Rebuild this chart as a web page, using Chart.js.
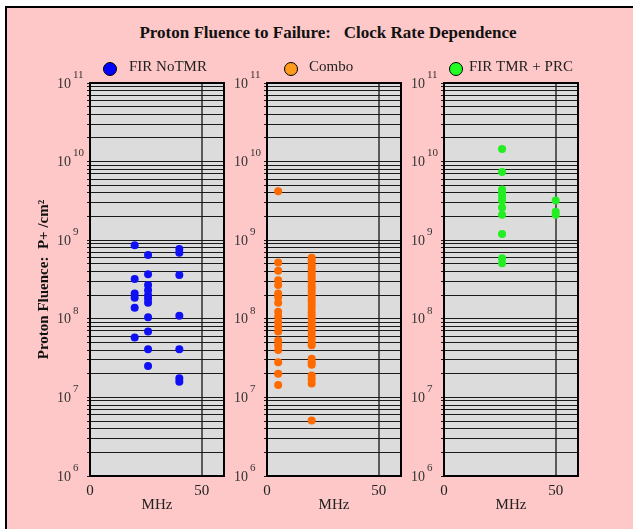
<!DOCTYPE html>
<html>
<head>
<meta charset="utf-8">
<script src="https://cdn.jsdelivr.net/npm/chart.js@4.4.0/dist/chart.umd.min.js"></script>
<style>
body { margin: 0; background: #fff; }
#wrap { position: relative; width: 633px; height: 529px; overflow: hidden; }
#frame { position: absolute; left: 5px; top: 6px; right: 0; bottom: 0; background: #ffc8c8;
         border-top: 2px solid #000; border-left: 2px solid #000; }
#title { position: absolute; left: 0; width: 656px; top: 23px; line-height: 20px; text-align: center;
         font: bold 17px "Liberation Serif", serif; white-space: pre; color: #111; }
canvas { position: absolute; left: 0; top: 0; }
</style>
</head>
<body>
<div id="wrap">
  <div id="frame"></div>
  <div id="title">Proton Fluence to Failure:   Clock Rate Dependence</div>
  <canvas id="c0"></canvas>
  <canvas id="c1"></canvas>
  <canvas id="c2"></canvas>
</div>
<script>
// --- data ---
const seriesNames = ['FIR NoTMR', 'Combo', 'FIR TMR + PRC'];

const noTmrMHz = [20, 26, 40];
const noTmrFluence = [
    [8.6e8, 3.2e8, 2.1e8, 1.85e8, 1.38e8, 5.8e7],
    [6.5e8, 3.7e8, 2.7e8, 2.3e8, 2.0e8, 1.8e8, 1.6e8, 1.05e8, 6.9e7, 4.1e7, 2.5e7],
    [7.7e8, 6.9e8, 3.6e8, 1.09e8, 4.1e7, 1.75e7, 1.58e7]
];

const comboMHz = [5, 20];
const comboFluence = [
    [4.2e9, 5.2e8, 4.1e8, 3.1e8, 2.7e8, 2.1e8, 1.9e8, 1.6e8, 1.23e8, 1.07e8, 9.1e7, 7.9e7,
     6.9e7, 5.3e7, 4.6e7, 4.0e7, 2.8e7, 2.0e7, 1.44e7],
    [6.0e8, 5.5e8, 5.0e8, 4.6e8, 4.2e8, 3.8e8, 3.5e8, 3.2e8, 2.9e8, 2.6e8, 2.4e8, 2.2e8, 2.0e8,
     1.8e8, 1.65e8, 1.5e8, 1.35e8, 1.2e8, 1.1e8, 1.0e8, 9.0e7, 8.2e7, 7.5e7, 6.8e7, 6.2e7,
     5.6e7, 5.0e7, 4.6e7, 3.1e7, 2.8e7, 2.6e7, 1.9e7, 1.7e7, 1.5e7, 5.1e6]
];

const tmrMHz = [26, 50];
const tmrFluence = [
    [1.45e10, 7.4e9, 4.4e9, 4.0e9, 3.6e9, 3.2e9, 2.6e9, 2.1e9, 1.2e9, 5.9e8, 5.1e8],
    [3.2e9, 2.3e9, 2.1e9]
];

const xTicks = [0, 50];
const yTickExps = [6, 7, 8, 9, 10, 11];

// --- look ---
const panelLeft = [90, 267, 444];
const panelWidth = 134;
const pointColors = ['#1010f5', '#ff6a00', '#22ee22'];
const legendColors = ['#0000ff', '#ff9a1a', '#22ff22'];
const legendMarkerX = [20, 24, 12];
const legendTextX = [39, 42, 25];
const serif = '"Liberation Serif", "Times New Roman", serif';

// log grid: 1..9 x 10^n
const gridValues = [];
for (let e = yTickExps[0]; e < yTickExps[yTickExps.length - 1]; e++) {
    for (let m = 1; m <= 9; m++) gridValues.push(m * Math.pow(10, e));
}
gridValues.push(Math.pow(10, yTickExps[yTickExps.length - 1]));

const panelDecor = {
    id: 'panelDecor',
    beforeDraw(chart) {
        const a = chart.chartArea, ctx = chart.ctx;
        ctx.save();
        ctx.fillStyle = '#dcdcdc';
        ctx.fillRect(a.left, a.top, a.right - a.left, a.bottom - a.top);
        ctx.restore();
    },
    afterDraw(chart, args, opts) {
        const a = chart.chartArea, ctx = chart.ctx;
        ctx.save();
        ctx.strokeStyle = '#000';
        ctx.lineWidth = 2;
        ctx.strokeRect(a.left, a.top, a.right - a.left, a.bottom - a.top);

        // y tick labels as 10 with a raised exponent
        const ys = chart.scales.y;
        ctx.fillStyle = '#333';
        yTickExps.forEach(function(e) {
            const py = ys.getPixelForValue(Math.pow(10, e));
            ctx.font = '14px ' + serif;
            ctx.textAlign = 'right';
            ctx.textBaseline = 'middle';
            ctx.fillText('10', a.left - 19, py + 1);
            ctx.font = '11px ' + serif;
            ctx.textAlign = 'left';
            ctx.fillText(String(e), a.left - 17, py - 8);
        });

        // legend entry above the panel
        ctx.beginPath();
        ctx.arc(a.left + opts.markerX, 69, 6.5, 0, Math.PI * 2);
        ctx.fillStyle = opts.color;
        ctx.fill();
        ctx.lineWidth = 1;
        ctx.strokeStyle = '#000';
        ctx.stroke();
        ctx.fillStyle = '#222';
        ctx.font = '15px ' + serif;
        ctx.textAlign = 'left';
        ctx.textBaseline = 'middle';
        ctx.fillText(opts.label, a.left + opts.textX, 67);
        ctx.restore();
    }
};

function makePanel(i, clocks, fluence) {
    const canvas = document.getElementById('c' + i);
    canvas.width = panelLeft[i] + panelWidth + 20;
    canvas.height = 529;

    const pts = [];
    clocks.forEach(function(mhz, k) {
        fluence[k].forEach(function(v) { pts.push({ x: mhz, y: v }); });
    });

    return new Chart(canvas, {
        type: 'scatter',
        data: {
            datasets: [{
                label: seriesNames[i],
                data: pts,
                backgroundColor: pointColors[i],
                borderWidth: 0,
                pointRadius: 4,
                pointHoverRadius: 4
            }]
        },
        options: {
            responsive: false,
            animation: false,
            layout: { padding: { top: 83, right: 20, left: 0, bottom: 0 } },
            scales: {
                x: {
                    type: 'linear',
                    min: 0,
                    max: 60,
                    afterBuildTicks: function(s) { s.ticks = xTicks.map(function(v) { return { value: v }; }); },
                    afterFit: function(s) { s.height = 53; },
                    border: { display: false },
                    grid: {
                        drawTicks: false,
                        lineWidth: 2,
                        color: function(c) { return c.tick && c.tick.value === 50 ? '#5a5a5a' : 'rgba(0,0,0,0)'; }
                    },
                    ticks: { padding: 6, color: '#222', font: { family: serif, size: 15 } },
                    title: {
                        display: true,
                        text: 'MHz',
                        color: '#222',
                        font: { family: serif, size: 15 },
                        padding: { top: 0, bottom: 15 }
                    }
                },
                y: {
                    type: 'logarithmic',
                    min: 1e6,
                    max: 1e11,
                    afterBuildTicks: function(s) { s.ticks = gridValues.map(function(v) { return { value: v }; }); },
                    afterFit: function(s) { s.width = panelLeft[i]; },
                    border: { display: false },
                    grid: { color: '#1a1a1a', lineWidth: 1, drawTicks: true, tickLength: 3 },
                    ticks: { display: false },
                    title: {
                        display: i === 0,
                        text: 'Proton Fluence:  P+ /cm\u00b2',
                        color: '#111',
                        font: { family: serif, size: 15, weight: 'bold' },
                        padding: { top: 35, bottom: 0 }
                    }
                }
            },
            plugins: {
                legend: { display: false },
                tooltip: { enabled: false },
                panelDecor: {
                    label: seriesNames[i],
                    color: legendColors[i],
                    markerX: legendMarkerX[i],
                    textX: legendTextX[i]
                }
            }
        },
        plugins: [panelDecor]
    });
}

makePanel(0, noTmrMHz, noTmrFluence);
makePanel(1, comboMHz, comboFluence);
makePanel(2, tmrMHz, tmrFluence);
</script>
</body>
</html>
